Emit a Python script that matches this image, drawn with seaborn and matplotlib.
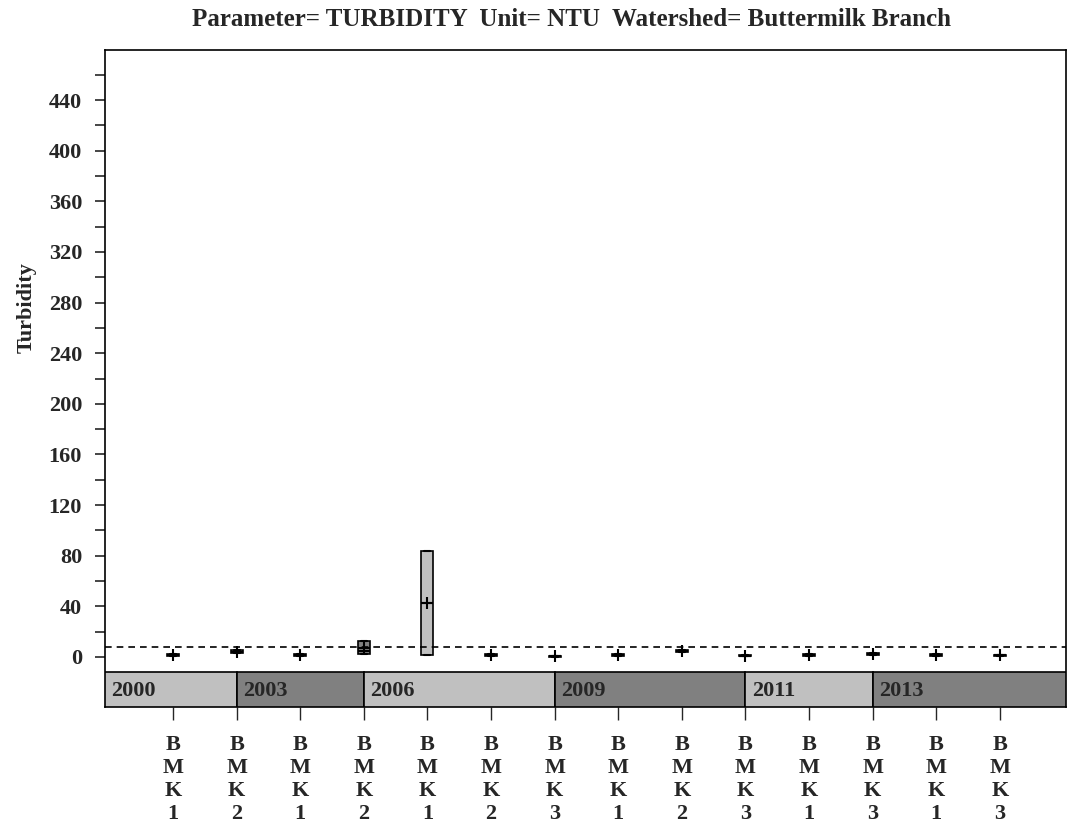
import numpy as np
import pandas as pd
import matplotlib
matplotlib.use("Agg")
import matplotlib.pyplot as plt
from matplotlib.patches import Rectangle
import seaborn as sns

# Turbidity samples (NTU) per year / site
years = ["2000", "2000", "2003", "2003", "2006", "2006", "2006",
         "2009", "2009", "2009", "2011", "2011", "2013", "2013"]
sites = ["BMK1", "BMK2", "BMK1", "BMK2", "BMK1", "BMK2", "BMK3",
         "BMK1", "BMK2", "BMK3", "BMK1", "BMK3", "BMK1", "BMK3"]
turbidity = [
    [1.0, 1.0, 1.6, 2.4, 2.4],
    [3.4, 3.4, 4.2, 5.2, 5.2],
    [1.0, 1.0, 1.5, 2.0, 2.0],
    [2.5, 2.5, 5.0, 12.6, 12.6],
    [1.6, 1.6, 84.0, 84.0],
    [1.0, 1.0, 1.5, 2.2, 2.2],
    [0.2, 0.2, 0.6, 1.0, 1.0],
    [1.0, 1.0, 1.6, 2.2, 2.2],
    [3.6, 3.6, 4.4, 5.4, 5.4],
    [0.4, 0.4, 0.9, 1.4, 1.4],
    [1.0, 1.0, 1.8, 2.6, 2.6],
    [1.8, 1.8, 2.6, 3.4, 3.4],
    [1.0, 1.0, 1.5, 2.0, 2.0],
    [0.6, 0.6, 1.2, 1.8, 1.8],
]
standard = 8
light, dark = "#c0c0c0", "#808080"

slots = [f"{y} {s}" for y, s in zip(years, sites)]
rows = []
for slot, y, vals in zip(slots, years, turbidity):
    for v in vals:
        rows.append({"slot": slot, "year": y, "Turbidity": v})
df = pd.DataFrame(rows)

year_order = list(dict.fromkeys(years))
palette = {y: (light if i % 2 == 0 else dark) for i, y in enumerate(year_order)}

sns.set_style("ticks")
plt.rcParams["font.family"] = ["Liberation Serif", "DejaVu Serif"]
plt.rcParams["font.weight"] = "bold"

fig = plt.figure(figsize=(10.68, 8.32), dpi=100)
ax = fig.add_axes([105 / 1068, 1 - 707 / 832, 961 / 1068, 657 / 832])

sns.boxplot(data=df, x="slot", y="Turbidity", hue="year", order=slots,
            palette=palette, dodge=False, width=0.19, whis=(0, 100),
            showmeans=True, legend=False, linewidth=1.2, linecolor="black",
            meanprops=dict(marker="+", markeredgecolor="black", markersize=9,
                           markeredgewidth=1.5),
            medianprops=dict(color="black", linewidth=1.5),
            capprops=dict(linewidth=1.5), ax=ax)

xlo, xhi = -1.07, 14.04
ylo, yhi = -39.5, 479.5
ax.set_xlim(xlo, xhi)
ax.set_ylim(ylo, yhi)

# dashed standard line
ax.axhline(standard, color="black", linestyle=(0, (4, 3)), linewidth=1.2)

# year band along the bottom
band_hi = -11.8
last_idx = [max(i for i, y in enumerate(years) if y == yy) for yy in year_order]
edges = [xlo] + last_idx[:-1] + [xhi]
for i, yy in enumerate(year_order):
    x0, x1 = edges[i], edges[i + 1]
    ax.add_patch(Rectangle((x0, ylo), x1 - x0, band_hi - ylo,
                           facecolor=palette[yy], edgecolor="black",
                           linewidth=1.2, zorder=3))
    ax.text(x0 + 0.1, (ylo + band_hi) / 2 - 1, yy, ha="left", va="center",
            fontsize=16, fontweight="bold", zorder=4)

ax.set_yticks(np.arange(0, 441, 40))
ax.set_yticks(np.arange(20, 461, 40), minor=True)
ax.tick_params(axis="y", which="both", direction="out", length=7.5,
               width=1.2, pad=9, labelsize=16)
ax.set_xticks(range(len(slots)))
ax.set_xticklabels(["\n".join(s) for s in sites], fontsize=16,
                   fontweight="bold", linespacing=1.2)
ax.tick_params(axis="x", direction="out", length=9.5, width=1.0, pad=11)

for sp in ax.spines.values():
    sp.set_visible(True)
    sp.set_linewidth(1.2)
    sp.set_color("black")

ax.set_xlabel("")
ax.set_ylabel("Turbidity", fontsize=16, fontweight="bold")
ax.yaxis.set_label_coords((37 - 105) / 961, (707 - 308) / 657)

fig.text(572 / 1068, 1 - 20 / 832,
         "Parameter= TURBIDITY  Unit= NTU  Watershed= Buttermilk Branch",
         ha="center", va="center", fontsize=18, fontweight="bold")

fig.savefig("out.png", dpi=100)
